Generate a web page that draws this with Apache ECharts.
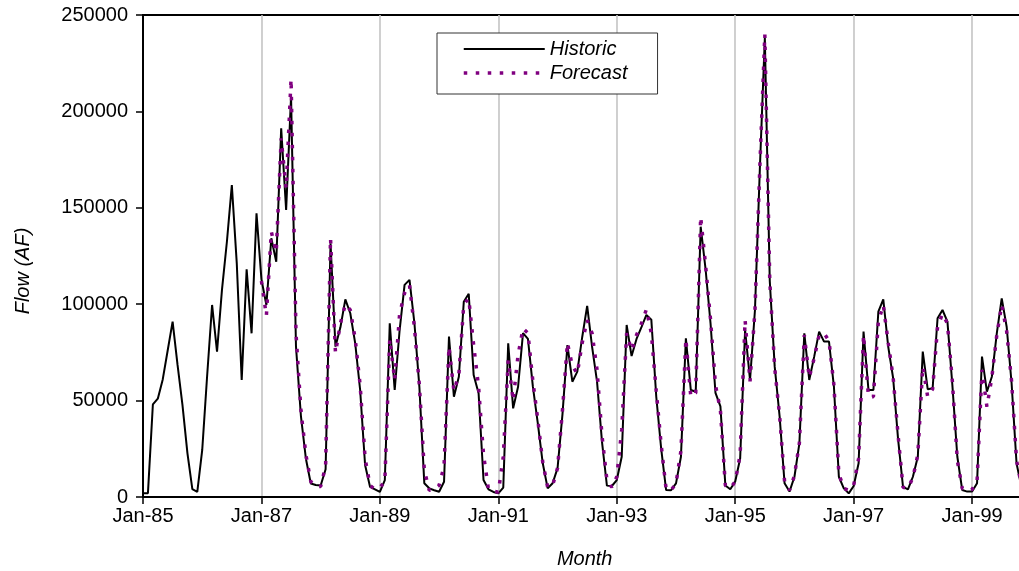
<!DOCTYPE html>
<html>
<head>
<meta charset="utf-8">
<script src="https://cdn.jsdelivr.net/npm/echarts@6/dist/echarts.min.js"></script>
<style>
  html, body { margin: 0; padding: 0; background: #fff; }
  #chart { width: 1019px; height: 571px; }
</style>
</head>
<body>
<div id="chart"></div>
<script>
// Month categories, Jan-85 .. Dec-99
const years = ['85','86','87','88','89','90','91','92','93','94','95','96','97','98','99'];
const monthNames = ['Jan','Feb','Mar','Apr','May','Jun','Jul','Aug','Sep','Oct','Nov','Dec'];
const categories = years.flatMap(y => monthNames.map(m => m + '-' + y));

// Labelled ticks on the month axis (every second January)
const tickLabels = ['Jan-85','Jan-87','Jan-89','Jan-91','Jan-93','Jan-95','Jan-97','Jan-99'];

// Y axis ticks
const yTicks = [0, 50000, 100000, 150000, 200000, 250000];

// Historic monthly flow (AF), Jan-85 .. Nov-99
const historic = [
  2000, 2000, 48000, 51000, 61000, 76000, 91000, 68500, 47700, 22800, 4100, 2700,          // 1985
  24400, 63000, 99600, 75400, 107400, 132400, 161800, 121200, 60700, 118100, 84900, 147100, // 1986
  112900, 99600, 134200, 122000, 191200, 148900, 207600, 78000, 42000, 20000, 7000, 6200,   // 1987
  6000, 14400, 131600, 78000, 88000, 102500, 95300, 79700, 55500, 16600, 5300, 4000,        // 1988
  2700, 8800, 90100, 55500, 86600, 110000, 112600, 90100, 57200, 7100, 4500, 3500,          // 1989
  2700, 7900, 83200, 52000, 62400, 101300, 105400, 63300, 53800, 8800, 4000, 2600,          // 1990
  1900, 4900, 79700, 46000, 57200, 85000, 82000, 57200, 38200, 17500, 4500, 7100,           // 1991
  15000, 43000, 78800, 59800, 65000, 83000, 99100, 77900, 59800, 28700, 5900, 5700,         // 1992
  8800, 20900, 89200, 73100, 82000, 88100, 94400, 92000, 52000, 25000, 3600, 3500,          // 1993
  7100, 20900, 82300, 55500, 54600, 140200, 118000, 90000, 54000, 47000, 6000, 4000,        // 1994
  8000, 20000, 86600, 60700, 97000, 171000, 238000, 112000, 67600, 41700, 7100, 2800,       // 1995
  10500, 27800, 84900, 60700, 72800, 85800, 80600, 80600, 57200, 10500, 4500, 1900,         // 1996
  5700, 17500, 85800, 55500, 55500, 96100, 102500, 78000, 61600, 30000, 5300, 4000,         // 1997
  10500, 20900, 75400, 55900, 56400, 92700, 97000, 91000, 58000, 21000, 3600, 2800,         // 1998
  2800, 7100, 72800, 54600, 62400, 84900, 103000, 88300, 59000, 17500, 5000                 // 1999
];

// Forecast monthly flow (AF), Jan-87 .. Nov-99
const forecastStart = 'Jan-87';
const forecast = [
  112000, 94000, 137600, 127000, 186000, 160000, 216800, 85000, 45000, 22000, 8000, 5500,   // 1987
  5500, 16000, 134200, 74700, 90000, 100000, 97000, 82000, 58000, 20000, 6000, 4000,        // 1988
  5000, 8000, 82000, 60700, 95000, 105700, 110000, 88000, 58000, 14000, 3500, 4000,         // 1989
  6000, 16000, 78000, 55000, 63500, 100000, 103000, 78800, 57000, 22000, 4000, 3000,        // 1990
  2500, 20900, 71000, 50000, 73700, 87500, 85000, 60000, 40000, 18000, 5000, 6000,          // 1991
  15000, 45000, 80000, 68000, 64000, 80000, 91800, 84900, 66000, 32000, 8800, 5000,         // 1992
  10500, 34800, 85000, 76000, 84000, 90000, 97300, 85000, 55000, 27000, 4000, 3500,         // 1993
  7000, 24000, 82000, 52000, 54000, 145400, 120000, 92000, 58000, 45000, 6000, 4500,        // 1994
  8000, 22000, 91800, 60000, 97000, 172000, 240000, 112000, 67000, 42000, 8000, 3500,       // 1995
  11000, 28000, 84000, 62000, 72000, 84000, 84900, 81000, 58000, 12000, 4500, 3500,         // 1996
  6000, 20000, 84000, 52000, 52000, 90900, 99600, 80000, 62000, 32000, 5000, 4500,          // 1997
  10000, 22000, 67600, 52000, 56000, 88300, 95000, 90000, 60000, 19000, 4500, 3000,         // 1998
  4000, 8000, 65900, 46800, 62000, 84000, 99600, 86000, 60000, 19000, 6000                  // 1999
];

const offset = categories.indexOf(forecastStart);
const forecastSeries = new Array(offset).fill(null).concat(forecast);

const font = 'Liberation Sans, Arial, sans-serif';
const tickEvery = 24;

const chart = echarts.init(document.getElementById('chart'), null, { renderer: 'canvas' });
chart.setOption({
  animation: false,
  backgroundColor: '#fff',
  grid: {
    left: 143,
    top: 15,
    right: -7.4,
    bottom: 74,
    outerBoundsMode: 'none',
    containLabel: false,
    show: true,
    borderColor: '#000',
    borderWidth: 2,
    backgroundColor: 'transparent'
  },
  legend: {
    orient: 'vertical',
    left: 437,
    top: 33,
    padding: [6, 30, 11, 25],
    itemWidth: 81,
    itemHeight: 20,
    itemGap: 4,
    backgroundColor: '#fff',
    borderColor: '#333',
    borderWidth: 1,
    textStyle: { fontFamily: font, fontSize: 20, fontStyle: 'italic', color: '#000' },
    data: [
      {
        name: 'Historic',
        itemStyle: { opacity: 0 },
        lineStyle: { color: '#000', width: 2, type: 'solid' }
      },
      {
        name: 'Forecast',
        itemStyle: { opacity: 0 },
        lineStyle: { color: '#800080', width: 3.5, type: [3.5, 8.5] }
      }
    ]
  },
  xAxis: {
    type: 'category',
    data: categories,
    boundaryGap: false,
    name: 'Month',
    nameLocation: 'middle',
    nameGap: 52,
    nameTextStyle: { fontFamily: font, fontSize: 20, fontStyle: 'italic', color: '#000' },
    axisLine: { lineStyle: { color: '#000', width: 2 } },
    axisTick: { show: true, interval: tickEvery - 1, length: 7, lineStyle: { color: '#000', width: 1.5 } },
    axisLabel: {
      interval: tickEvery - 1,
      margin: 9,
      fontFamily: font,
      fontSize: 20,
      color: '#000',
      formatter: v => (tickLabels.includes(v) ? v : '')
    },
    splitLine: { show: true, interval: tickEvery - 1, lineStyle: { color: '#c4c4c4', width: 1.6 } }
  },
  yAxis: {
    type: 'value',
    min: yTicks[0],
    max: yTicks[yTicks.length - 1],
    interval: yTicks[1] - yTicks[0],
    name: 'Flow (AF)',
    nameLocation: 'middle',
    nameGap: 110,
    nameTextStyle: { fontFamily: font, fontSize: 20, fontStyle: 'italic', color: '#000', padding: [0, 30, 0, 0] },
    axisLine: { show: true, lineStyle: { color: '#000', width: 2 } },
    axisTick: { show: true, length: 7, lineStyle: { color: '#000', width: 1.5 } },
    axisLabel: {
      margin: 15,
      fontFamily: font,
      fontSize: 20,
      color: '#000',
      formatter: v => String(v)
    },
    splitLine: { show: false }
  },
  series: [
    {
      name: 'Historic',
      type: 'line',
      data: historic,
      symbol: 'none',
      lineStyle: { color: '#000', width: 2 },
      itemStyle: { color: '#000' },
      z: 2
    },
    {
      name: 'Forecast',
      type: 'line',
      data: forecastSeries,
      symbol: 'none',
      lineStyle: { color: '#800080', width: 3.5, type: [3.5, 8.5], cap: 'butt' },
      itemStyle: { color: '#800080' },
      z: 3
    }
  ]
});
</script>
</body>
</html>
